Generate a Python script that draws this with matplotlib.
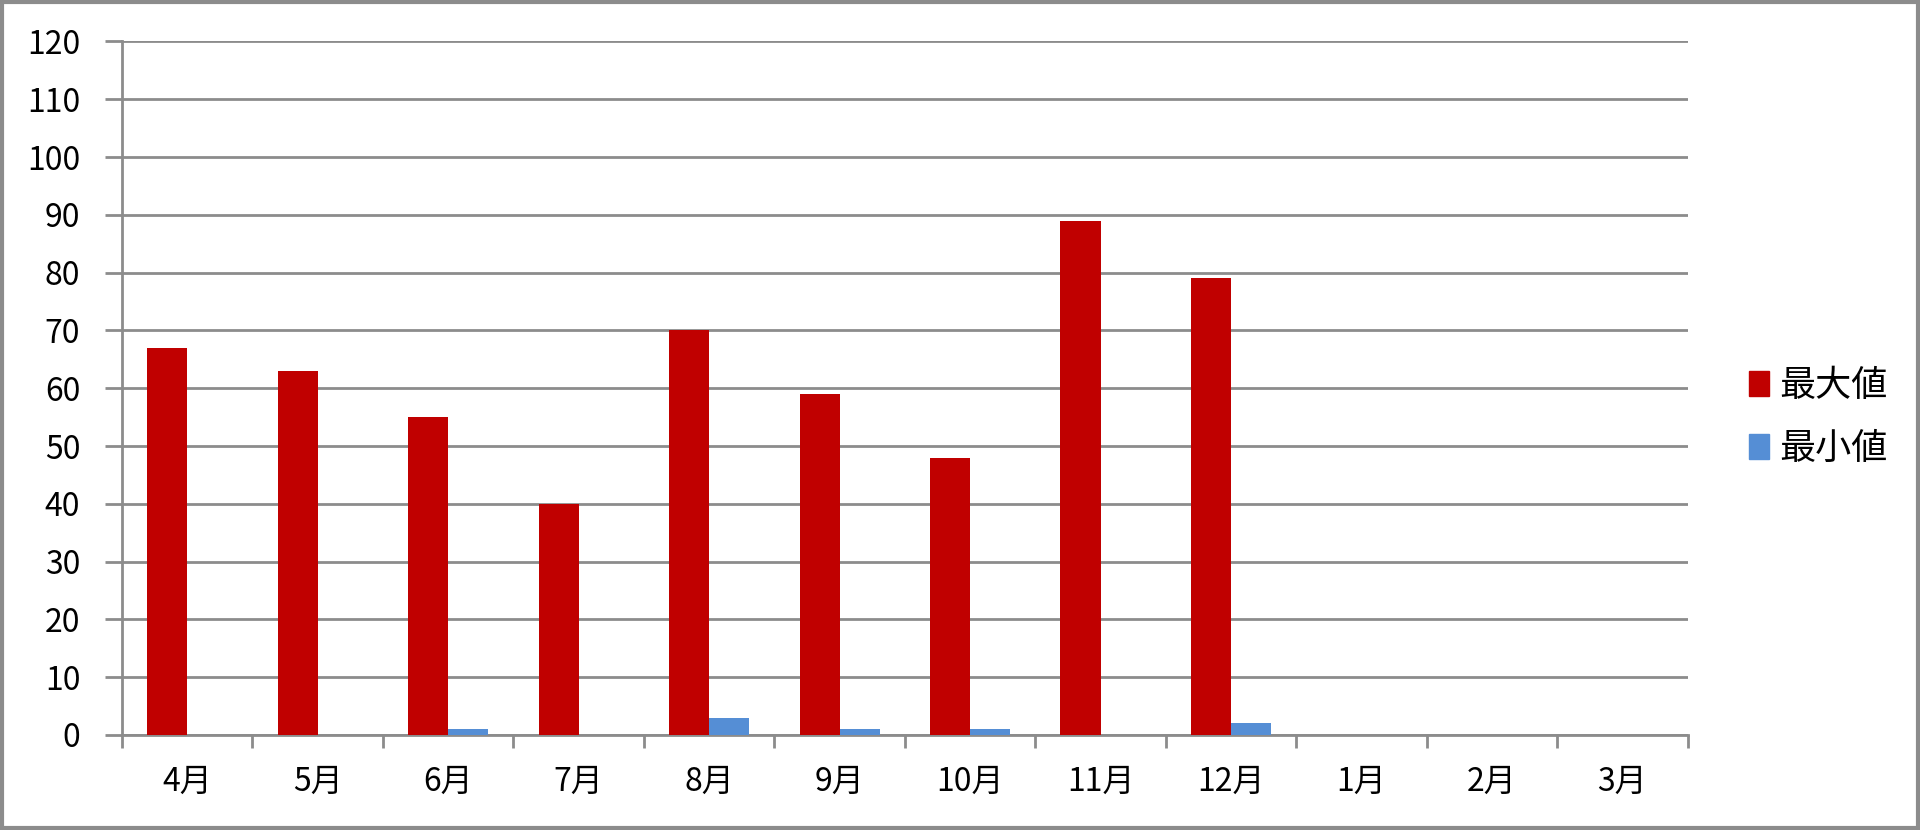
import numpy as np
import matplotlib
matplotlib.use("Agg")
import matplotlib.pyplot as plt
from matplotlib.patches import Rectangle, Patch

plt.rcParams['font.family'] = ['Noto Sans CJK JP', 'DejaVu Sans']

# data
months = ['4月', '5月', '6月', '7月', '8月', '9月', '10月', '11月', '12月', '1月', '2月', '3月']
max_vals = [67, 63, 55, 40, 70, 59, 48, 89, 79, np.nan, np.nan, np.nan]
min_vals = [0, 0, 1, 0, 3, 1, 1, 0, 2, np.nan, np.nan, np.nan]
y_ticks = list(range(0, 121, 10))

red = '#C00000'
blue = '#558ED5'
grid_c = '#8C8C8C'

fig = plt.figure(figsize=(19.2, 8.3), dpi=100)
ax = fig.add_axes([0.0635, 0.1145, 0.8155, 0.8355])

x = np.arange(len(months))
w = 0.307
ax.bar(x - w / 2, max_vals, width=w, color=red, label='最大値', zorder=3)
ax.bar(x + w / 2, min_vals, width=w, color=blue, label='最小値', zorder=3)

ax.set_xlim(-0.5, len(months) - 0.5)
ax.set_ylim(0, 120)
ax.set_yticks(y_ticks)
ax.yaxis.grid(True, color=grid_c, linewidth=2)
ax.set_axisbelow(True)

# category labels centred, tick marks on the boundaries
ax.set_xticks(x)
ax.set_xticklabels(months)
ax.set_xticks(np.arange(-0.5, len(months)), minor=True)
ax.tick_params(axis='x', which='major', length=0, pad=22, labelsize=23)
ax.tick_params(axis='x', which='minor', length=9, width=2, color=grid_c)
ax.tick_params(axis='y', length=12, width=2, color=grid_c, labelsize=23, pad=18)

for s in ['top', 'right']:
    ax.spines[s].set_visible(False)
for s in ['left', 'bottom']:
    ax.spines[s].set_color(grid_c)
    ax.spines[s].set_linewidth(2)

handles = [Patch(color=red, label='最大値'), Patch(color=blue, label='最小値')]
fig.legend(handles=handles, loc='center left', bbox_to_anchor=(0.894, 0.497),
           frameon=False, fontsize=26, handlelength=0.55, handleheight=0.7,
           handletextpad=0.3, labelspacing=0.75)

# outer border
fig.patches.append(Rectangle((0.001, 0.002), 0.998, 0.996, transform=fig.transFigure,
                             fill=False, edgecolor='#8C8C8C', linewidth=3))

fig.savefig('out.png', dpi=100)
